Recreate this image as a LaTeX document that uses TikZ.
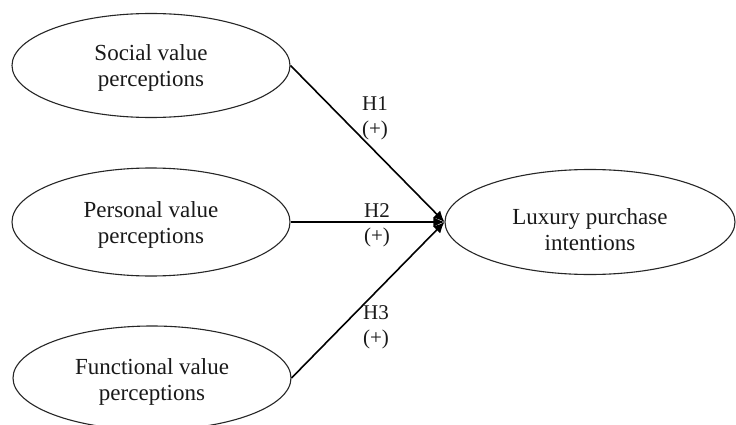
\documentclass[tikz,border=0pt]{standalone}
\usepackage{fontspec}
\setmainfont{Liberation Serif}
\usetikzlibrary{shapes.geometric,arrows.meta}
\begin{document}
\begin{tikzpicture}[x=1pt,y=1pt,
  construct/.style={ellipse,draw=black!85,line width=1.1pt,minimum width=278pt,minimum height=104pt,inner sep=0pt},
  conname/.style={align=center,font=\fontsize{23}{26}\selectfont,text=black!90},
  hyplabel/.style={align=center,font=\fontsize{21}{25}\selectfont,text=black!90},
  path/.style={line width=1.6pt,-{Latex[length=11pt,width=10pt]}}]
\useasboundingbox (0,0) rectangle (736,424);
\fill[white] (0,0) rectangle (736,424);
% antecedent constructs
\node[construct] (soc) at (151,358.5) {};
\node[conname] (soctxt) at (151,356) {Social value\\perceptions};
\node[construct,minimum height=108pt] (pers) at (151,202) {};
\node[conname] (perstxt) at (151,199) {Personal value\\perceptions};
\node[construct] (func) at (152,46) {};
\node[conname] (functxt) at (152,42) {Functional value\\perceptions};
% outcome construct
\node[construct,minimum width=290pt,minimum height=105pt] (lux) at (590,202) {};
\node[conname] (luxtxt) at (590,194.5) {Luxury purchase\\intentions};
% hypothesised paths
\draw[path] (soc.east) -- (lux.west);
\draw[path] (pers.east) -- (lux.west);
\draw[path] (func.east) -- (lux.west);
\node[hyplabel] (h1) at (375,305.5) {H1\\(+)};
\node[hyplabel] (h2) at (377,198.5) {H2\\(+)};
\node[hyplabel] (h3) at (376,96.5) {H3\\(+)};
\end{tikzpicture}
\end{document}
